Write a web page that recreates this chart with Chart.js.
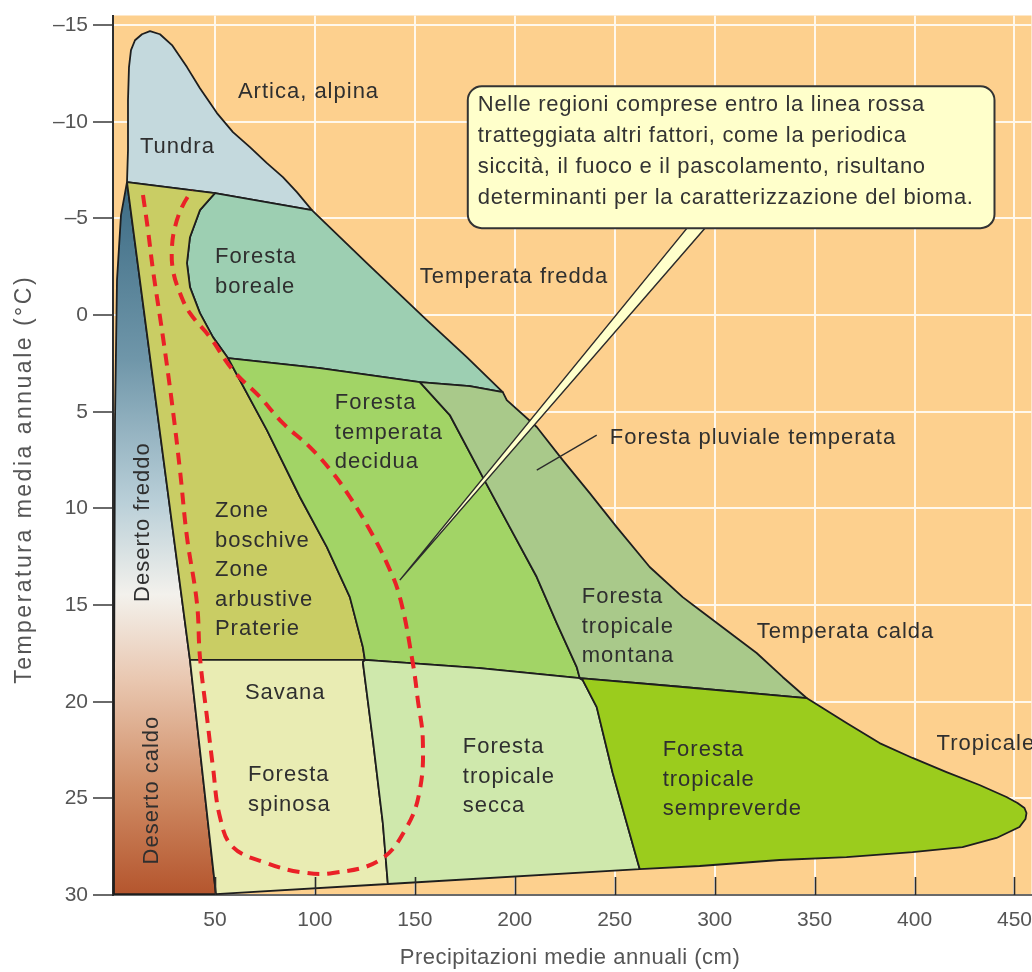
<!DOCTYPE html>
<html lang="it">
<head>
<meta charset="utf-8">
<title>Biomi: temperatura e precipitazioni</title>
<script src="https://cdn.jsdelivr.net/npm/chart.js@4.4.1/dist/chart.umd.min.js"></script>
<style>
  html, body { margin: 0; padding: 0; background: #ffffff; overflow: hidden; }
  canvas { display: block; }
</style>
</head>
<body>
<canvas id="biomi" width="1032" height="972"></canvas>
<script>
// Axis ticks
const xTicks = [50, 100, 150, 200, 250, 300, 350, 400, 450];
const yTicks = [-15, -10, -5, 0, 5, 10, 15, 20, 25, 30];

// Biome outlines as [precipitazioni (cm), temperatura (°C)]
const tundra = [[6,-6.88],[6.5,-8.53],[6.5,-11.12],[7,-12.83],[8,-13.71],[10,-14.22],[13.5,-14.53],[17.5,-14.69],[22.5,-14.53],[28.5,-13.97],[36,-12.83],[42.5,-11.74],[51,-10.45],[59,-9.47],[67.5,-8.69],[76,-7.86],[84,-7.14],[91,-6.36],[98.5,-5.43],[50,-6.31],[6,-6.88]];
const forestaBoreale = [[50,-6.31],[98.5,-5.43],[126,-2.69],[156,0.26],[176,2.17],[194,3.98],[177.5,3.67],[152.5,3.47],[102.5,2.74],[56.5,2.22],[49,1.14],[42.5,-0.10],[37.5,-1.45],[36,-2.69],[37.5,-4.03],[42.5,-5.43],[50,-6.31]];
const zoneBoschive = [[6,-6.88],[50,-6.31],[42.5,-5.43],[37.5,-4.03],[36,-2.69],[37.5,-1.45],[42.5,-0.10],[49,1.14],[56.5,2.22],[76,5.95],[92.5,9.41],[106,12.0],[117.5,14.59],[124,17.17],[125,17.84],[37.5,17.84],[6,-6.88]];
const forestaDecidua = [[56.5,2.22],[102.5,2.74],[152.5,3.47],[167.5,5.17],[184,8.38],[197.5,10.97],[211,13.55],[221,15.93],[231,18.21],[232.5,18.78],[182.5,18.26],[125,17.84],[124,17.17],[117.5,14.59],[106,12.0],[92.5,9.41],[76,5.95],[56.5,2.22]];
const forestaPluvialeTemperata = [[152.5,3.47],[177.5,3.67],[194,3.98],[196,4.40],[211,5.79],[224,7.50],[237.5,9.21],[251,10.97],[267.5,13.03],[284,14.59],[292.5,15.26],[321,17.48],[334,18.72],[346,19.81],[284,19.24],[232.5,18.78],[231,18.21],[221,15.93],[211,13.55],[197.5,10.97],[184,8.38],[167.5,5.17],[152.5,3.47]];
const forestaSempreverde = [[232.5,18.78],[284,19.24],[346,19.81],[366,21.1],[382.5,22.14],[399,22.91],[416,23.64],[432.5,24.31],[446,24.93],[451.5,25.24],[455,25.5],[456,25.76],[455.5,26.07],[452.5,26.48],[441,27.05],[424,27.52],[399,27.78],[366,28.04],[332.5,28.19],[292.5,28.5],[262.5,28.66],[256,26.28],[249,23.69],[241,20.28],[234,18.88],[232.5,18.78]];
const forestaSecca = [[125,17.84],[182.5,18.26],[232.5,18.78],[234,18.88],[241,20.28],[249,23.69],[256,26.28],[262.5,28.66],[136.5,29.43],[134,26.28],[129,21.98],[124,17.95],[125,17.84]];
const savana = [[37.5,17.84],[125,17.84],[124,17.95],[129,21.98],[134,26.28],[136.5,29.43],[50.5,29.95],[37.5,17.84]];
const deserto = [[6,-6.88],[37.5,17.84],[50.5,29.95],[-1,29.95],[-0.5,19.91],[0,5.43],[1,-1.81],[3,-5.17],[6,-6.88]];

// Red dashed limit of fire / drought / grazing influence (open curve)
const lineaRossa = [[14,-6.21],[16.5,-4.40],[19,-2.33],[24,1.14],[28.5,4.55],[32.5,8.02],[36,11.48],[41,14.90],[42.5,17.69],[46,20.79],[49,23.38],[52.5,25.97],[59,27.52],[76,28.35],[92.5,28.81],[109,28.86],[132.5,28.19],[146,26.48],[152.5,24.57],[154,21.98],[151.5,19.91],[149,18.0],[142.5,14.59],[136,12.83],[127.5,11.12],[117.5,9.41],[109,8.17],[97.5,6.83],[84,5.59],[72.5,4.24],[59,2.85],[47.5,1.14],[37.5,-0.10],[32.5,-1.14],[29,-2.33],[28.5,-3.52],[30,-4.55],[33.5,-5.59],[38.5,-6.47]];

const FONT = "'Liberation Sans', Arial, Helvetica, sans-serif";
Chart.defaults.font.family = FONT;

const toXY = pts => pts.map(([x, y]) => ({ x, y }));

function region(label, pts, color, order) {
  return {
    label, data: toXY(pts), order,
    showLine: true, fill: 'shape', tension: 0,
    backgroundColor: color, borderColor: '#1e1e1e', borderWidth: 1.8,
    pointRadius: 0, borderJoinStyle: 'round'
  };
}

// Cold-to-hot desert shading, anchored on the temperature axis
function desertGradient(context) {
  const chart = context.chart;
  const { chartArea } = chart;
  if (!chartArea) return '#9ab4c2';
  const y = chart.scales.y;
  const g = chart.ctx.createLinearGradient(0, y.getPixelForValue(-7), 0, y.getPixelForValue(30));
  g.addColorStop(0.00, '#3b6a83');
  g.addColorStop(0.25, '#6f96a9');
  g.addColorStop(0.45, '#b9cfd8');
  g.addColorStop(0.58, '#f3f1ec');
  g.addColorStop(0.70, '#e9c7b0');
  g.addColorStop(0.85, '#d08d66');
  g.addColorStop(1.00, '#b4552d');
  return g;
}

// Callout and labels, placed in data units
const calloutBox = { x0: 176.5, x1: 440, y0: -11.84, y1: -4.5 };
const calloutTail = { xa: 287, xb: 296, tipX: 142.5, tipY: 13.71 };
const calloutLines = [
  'Nelle regioni comprese entro la linea rossa',
  'tratteggiata altri fattori, come la periodica',
  'siccità, il fuoco e il pascolamento, risultano',
  'determinanti per la caratterizzazione del bioma.'
];
const labels = [
  { t: ['Artica, alpina'], x: 61.5, y: -11.53 },
  { t: ['Tundra'], x: 12.5, y: -8.69 },
  { t: ['Foresta', 'boreale'], x: 50, y: -3.0 },
  { t: ['Temperata fredda'], x: 152.5, y: -1.97 },
  { t: ['Foresta', 'temperata', 'decidua'], x: 110, y: 4.55 },
  { t: ['Foresta pluviale temperata'], x: 247.5, y: 6.36 },
  { t: ['Zone', 'boschive', 'Zone', 'arbustive', 'Praterie'], x: 50, y: 10.14 },
  { t: ['Foresta', 'tropicale', 'montana'], x: 233.5, y: 14.59 },
  { t: ['Temperata calda'], x: 321, y: 16.4 },
  { t: ['Savana'], x: 65, y: 19.55 },
  { t: ['Foresta', 'spinosa'], x: 66.5, y: 23.79 },
  { t: ['Foresta', 'tropicale', 'secca'], x: 174, y: 22.35 },
  { t: ['Foresta', 'tropicale', 'sempreverde'], x: 274, y: 22.5 },
  { t: ['Tropicale'], x: 411, y: 22.19 }
];
const verticalLabels = [
  { t: 'Deserto freddo', x: 14, y: 10.71 },
  { t: 'Deserto caldo', x: 18.5, y: 24.57 }
];
const leader = [[241, 6.21], [211, 8.02]];
const axisTitles = { x: 'Precipitazioni medie annuali (cm)', y: 'Temperatura media annuale (°C)' };

const plotBackground = {
  id: 'plotBackground',
  beforeDraw(chart) {
    const { ctx, chartArea: a } = chart;
    ctx.save();
    ctx.fillStyle = '#fdd08e';
    ctx.fillRect(a.left, a.top, a.right - a.left, a.bottom - a.top);
    ctx.restore();
  }
};

function spaced(ctx, px) {
  if ('letterSpacing' in ctx) ctx.letterSpacing = px + 'px';
}

const annotations = {
  id: 'annotations',
  afterDatasetsDraw(chart) {
    const { ctx, chartArea: a, scales: { x, y } } = chart;
    const px = v => x.getPixelForValue(v);
    const py = v => y.getPixelForValue(v);
    ctx.save();

    // inward tick marks on the precipitation axis
    ctx.strokeStyle = '#2b2b2b';
    ctx.lineWidth = 1.6;
    xTicks.forEach(v => {
      const X = Math.round(px(v)) + 0.5;
      ctx.beginPath();
      ctx.moveTo(X, a.bottom);
      ctx.lineTo(X, a.bottom - 18);
      ctx.stroke();
    });

    // leader for "Foresta pluviale temperata"
    ctx.strokeStyle = '#2b2b2b';
    ctx.lineWidth = 1.3;
    ctx.beginPath();
    ctx.moveTo(px(leader[0][0]), py(leader[0][1]));
    ctx.lineTo(px(leader[1][0]), py(leader[1][1]));
    ctx.stroke();

    // callout pointer
    ctx.fillStyle = '#ffffcb';
    ctx.strokeStyle = '#2b2b2b';
    ctx.lineWidth = 1.5;
    ctx.beginPath();
    ctx.moveTo(px(calloutTail.xa), py(calloutBox.y1) - 2);
    ctx.lineTo(px(calloutTail.tipX), py(calloutTail.tipY));
    ctx.lineTo(px(calloutTail.xb), py(calloutBox.y1) - 2);
    ctx.closePath();
    ctx.fill();
    ctx.stroke();

    // callout box
    const bx = px(calloutBox.x0), by = py(calloutBox.y0);
    const bw = px(calloutBox.x1) - bx, bh = py(calloutBox.y1) - by;
    ctx.beginPath();
    ctx.roundRect(bx, by, bw, bh, 14);
    ctx.fillStyle = '#ffffcb';
    ctx.fill();
    ctx.lineWidth = 2;
    ctx.strokeStyle = '#333333';
    ctx.stroke();

    ctx.fillStyle = '#333333';
    ctx.font = '22px ' + FONT;
    ctx.textAlign = 'left';
    ctx.textBaseline = 'middle';
    spaced(ctx, 0.7);
    calloutLines.forEach((line, i) => {
      ctx.fillText(line, bx + 10, by + 19 + i * 31);
    });

    // region names
    spaced(ctx, 1);
    ctx.fillStyle = '#2f2f2f';
    labels.forEach(l => {
      l.t.forEach((s, i) => ctx.fillText(s, px(l.x), py(l.y) + i * 29.5));
    });
    ctx.textAlign = 'center';
    verticalLabels.forEach(l => {
      ctx.save();
      ctx.translate(px(l.x), py(l.y));
      ctx.rotate(-Math.PI / 2);
      ctx.fillText(l.t, 0, 0);
      ctx.restore();
    });

    // axis titles
    ctx.fillStyle = '#555555';
    ctx.font = '22px ' + FONT;
    spaced(ctx, 0.5);
    ctx.fillText(axisTitles.x, 570, 958);
    ctx.save();
    ctx.font = '23px ' + FONT;
    spaced(ctx, 2.5);
    ctx.translate(25, py(8.5));
    ctx.rotate(-Math.PI / 2);
    ctx.fillText(axisTitles.y, 0, 0);
    ctx.restore();

    spaced(ctx, 0);
    ctx.restore();
  }
};

const fmtTemp = v => (v < 0 ? '\u2013' + Math.abs(v) : String(v));

new Chart(document.getElementById('biomi'), {
  type: 'scatter',
  data: {
    datasets: [
      {
        label: 'Limite linea rossa', data: toXY(lineaRossa), order: 0,
        showLine: true, fill: false, tension: 0.4,
        borderColor: '#ea2127', borderWidth: 4, borderDash: [12, 8],
        pointRadius: 0
      },
      region('Foresta tropicale sempreverde', forestaSempreverde, '#9bcc1d', 1),
      region('Foresta tropicale secca', forestaSecca, '#cfe8ac', 2),
      region('Savana / Foresta spinosa', savana, '#e9ecb3', 3),
      region('Foresta pluviale temperata', forestaPluvialeTemperata, '#a9c98a', 4),
      region('Foresta temperata decidua', forestaDecidua, '#a2d466', 5),
      region('Zone boschive, arbustive, praterie', zoneBoschive, '#c9cd64', 6),
      region('Foresta boreale', forestaBoreale, '#9dcfb2', 7),
      region('Tundra', tundra, '#c4d9dd', 8),
      region('Deserto', deserto, desertGradient, 9)
    ]
  },
  options: {
    responsive: false,
    devicePixelRatio: 1,
    animation: false,
    events: [],
    layout: { padding: { top: 15, right: 0, bottom: 0, left: 0 } },
    plugins: { legend: { display: false }, tooltip: { enabled: false } },
    scales: {
      x: {
        type: 'linear', min: -1, max: 458.5,
        afterBuildTicks: s => { s.ticks = xTicks.map(v => ({ value: v })); },
        afterFit: s => { s.height = 77; },
        grid: { color: '#fff8ec', lineWidth: 2, drawTicks: true, tickLength: 13, tickColor: 'rgba(0,0,0,0)' },
        border: { color: '#6a6a6a', width: 2 },
        ticks: { padding: 0, autoSkip: false, maxRotation: 0, color: '#555555', font: { size: 21 } },
        title: { display: false }
      },
      y: {
        type: 'linear', reverse: true, min: -15.5, max: 30,
        afterBuildTicks: s => { s.ticks = yTicks.map(v => ({ value: v })); },
        afterFit: s => { s.width = 113; },
        grid: { color: '#fff8ec', lineWidth: 2, drawTicks: true, tickLength: 20, tickColor: '#6a6a6a' },
        border: { color: '#2e2e2e', width: 2 },
        ticks: {
          padding: 5, autoSkip: false, color: '#555555',
          font: { size: 21, lineHeight: 1 },
          callback: v => fmtTemp(v)
        },
        title: { display: false }
      }
    }
  },
  plugins: [plotBackground, annotations]
});
</script>
</body>
</html>
